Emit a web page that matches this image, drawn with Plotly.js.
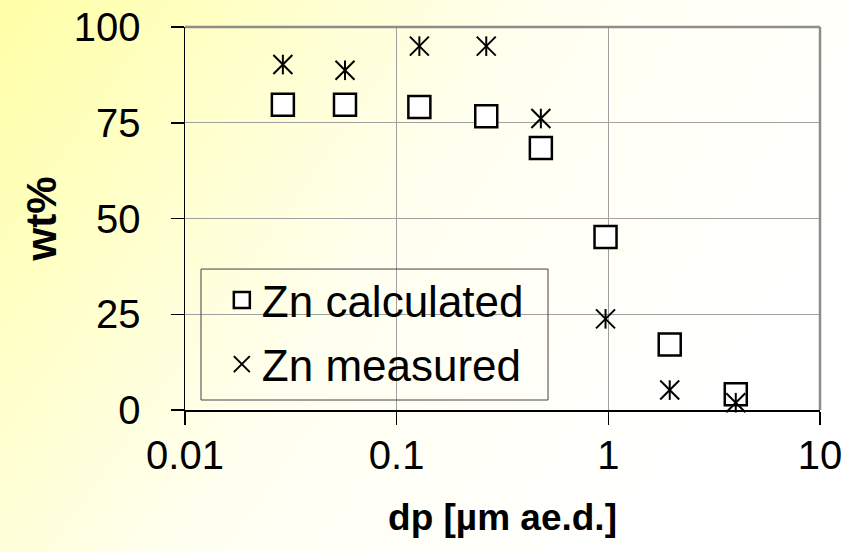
<!DOCTYPE html>
<html>
<head>
<meta charset="utf-8">
<script src="https://cdn.plot.ly/plotly-3.0.1.min.js"></script>
<style>
html,body{margin:0;padding:0;}
body{width:847px;height:552px;background:linear-gradient(125deg,#ffffa6 0%,#fffff0 45%,#ffffff 80%);}
#chart{width:847px;height:552px;}
</style>
</head>
<body>
<div id="chart"></div>
<script>
// Data
var dp = [0.029, 0.057, 0.128, 0.265, 0.48, 0.97, 1.95, 4.0];
var znCalculated = [79.7, 79.7, 79.1, 76.7, 68.4, 45.2, 17.1, 4.1];
var znMeasured = [90.2, 88.7, 95.0, 95.0, 76.1, 23.8, 5.2, 1.9];
var xTickVals = [0.01, 0.1, 1, 10];
var xTickText = ["0.01", "0.1", "1", "10"];
var yTickVals = [0, 25, 50, 75, 100];

var FONT = "Liberation Sans, Arial, sans-serif";

var traces = [
  {
    x: dp, y: znCalculated, type: "scatter", mode: "markers",
    name: "Zn calculated", cliponaxis: false,
    marker: {symbol: "square", size: 22, color: "#ffffff", line: {color: "#000000", width: 2.5}}
  },
  {
    x: dp, y: znMeasured, type: "scatter", mode: "markers",
    name: "Zn measured", legendgroup: "meas", cliponaxis: false,
    marker: {symbol: "x-thin-open", size: 19, color: "#000000", line: {color: "#000000", width: 2}}
  },
  {
    x: dp, y: znMeasured, type: "scatter", mode: "markers",
    name: "Zn measured", legendgroup: "meas", showlegend: false, cliponaxis: false,
    marker: {symbol: "line-ns-open", size: 14, color: "#000000", line: {color: "#000000", width: 2}}
  }
];

var layout = {
  width: 847, height: 552,
  paper_bgcolor: "rgba(0,0,0,0)",
  plot_bgcolor: "rgba(0,0,0,0)",
  margin: {l: 185, r: 27, t: 27, b: 142, pad: 0},
  font: {family: FONT, color: "#000000", size: 40},
  showlegend: true,
  legend: {
    x: 0.058, y: 0.379, xanchor: "left", yanchor: "top",
    bgcolor: "rgba(0,0,0,0)", borderwidth: 0, tracegroupgap: 4,
    font: {family: FONT, size: 44, color: "#000000"}
  },
  xaxis: {
    type: "log", range: [-2, 1],
    tickmode: "array", tickvals: xTickVals, ticktext: xTickText,
    ticks: "outside", ticklen: 13, tickwidth: 1.5, tickcolor: "#000000",
    showline: true, linecolor: "#000000", linewidth: 1.5,
    showgrid: true, gridcolor: "#a0a0a0", gridwidth: 1,
    zeroline: false,
    tickfont: {family: FONT, size: 40, color: "#000000"},
    ticklabelstandoff: -4,
    title: {text: "<b>dp [µm ae.d.]</b>", font: {family: FONT, size: 37, color: "#000000"}, standoff: 28}
  },
  yaxis: {
    range: [0, 100],
    tickmode: "array", tickvals: yTickVals,
    ticks: "outside", ticklen: 13, tickwidth: 1.5, tickcolor: "#000000",
    showline: true, linecolor: "#000000", linewidth: 1.5,
    showgrid: true, gridcolor: "#a0a0a0", gridwidth: 1,
    zeroline: false,
    tickfont: {family: FONT, size: 40, color: "#000000"},
    ticklabelstandoff: 22,
    title: {text: "<b>wt%</b>", font: {family: FONT, size: 42, color: "#000000"}, standoff: 4}
  },
  shapes: [
    {type: "line", xref: "paper", yref: "paper", x0: 0, x1: 1, y0: 1, y1: 1, line: {color: "#8c8c8c", width: 2.5}},
    {type: "line", xref: "paper", yref: "paper", x0: 1, x1: 1, y0: 0, y1: 1, line: {color: "#8c8c8c", width: 2.5}},
    {type: "rect", xref: "paper", yref: "paper", x0: 0.0252, x1: 0.5717, y0: 0.0261, y1: 0.368, line: {color: "#404040", width: 1}}
  ]
};

Plotly.newPlot("chart", traces, layout, {displayModeBar: false, staticPlot: true});
</script>
</body>
</html>
